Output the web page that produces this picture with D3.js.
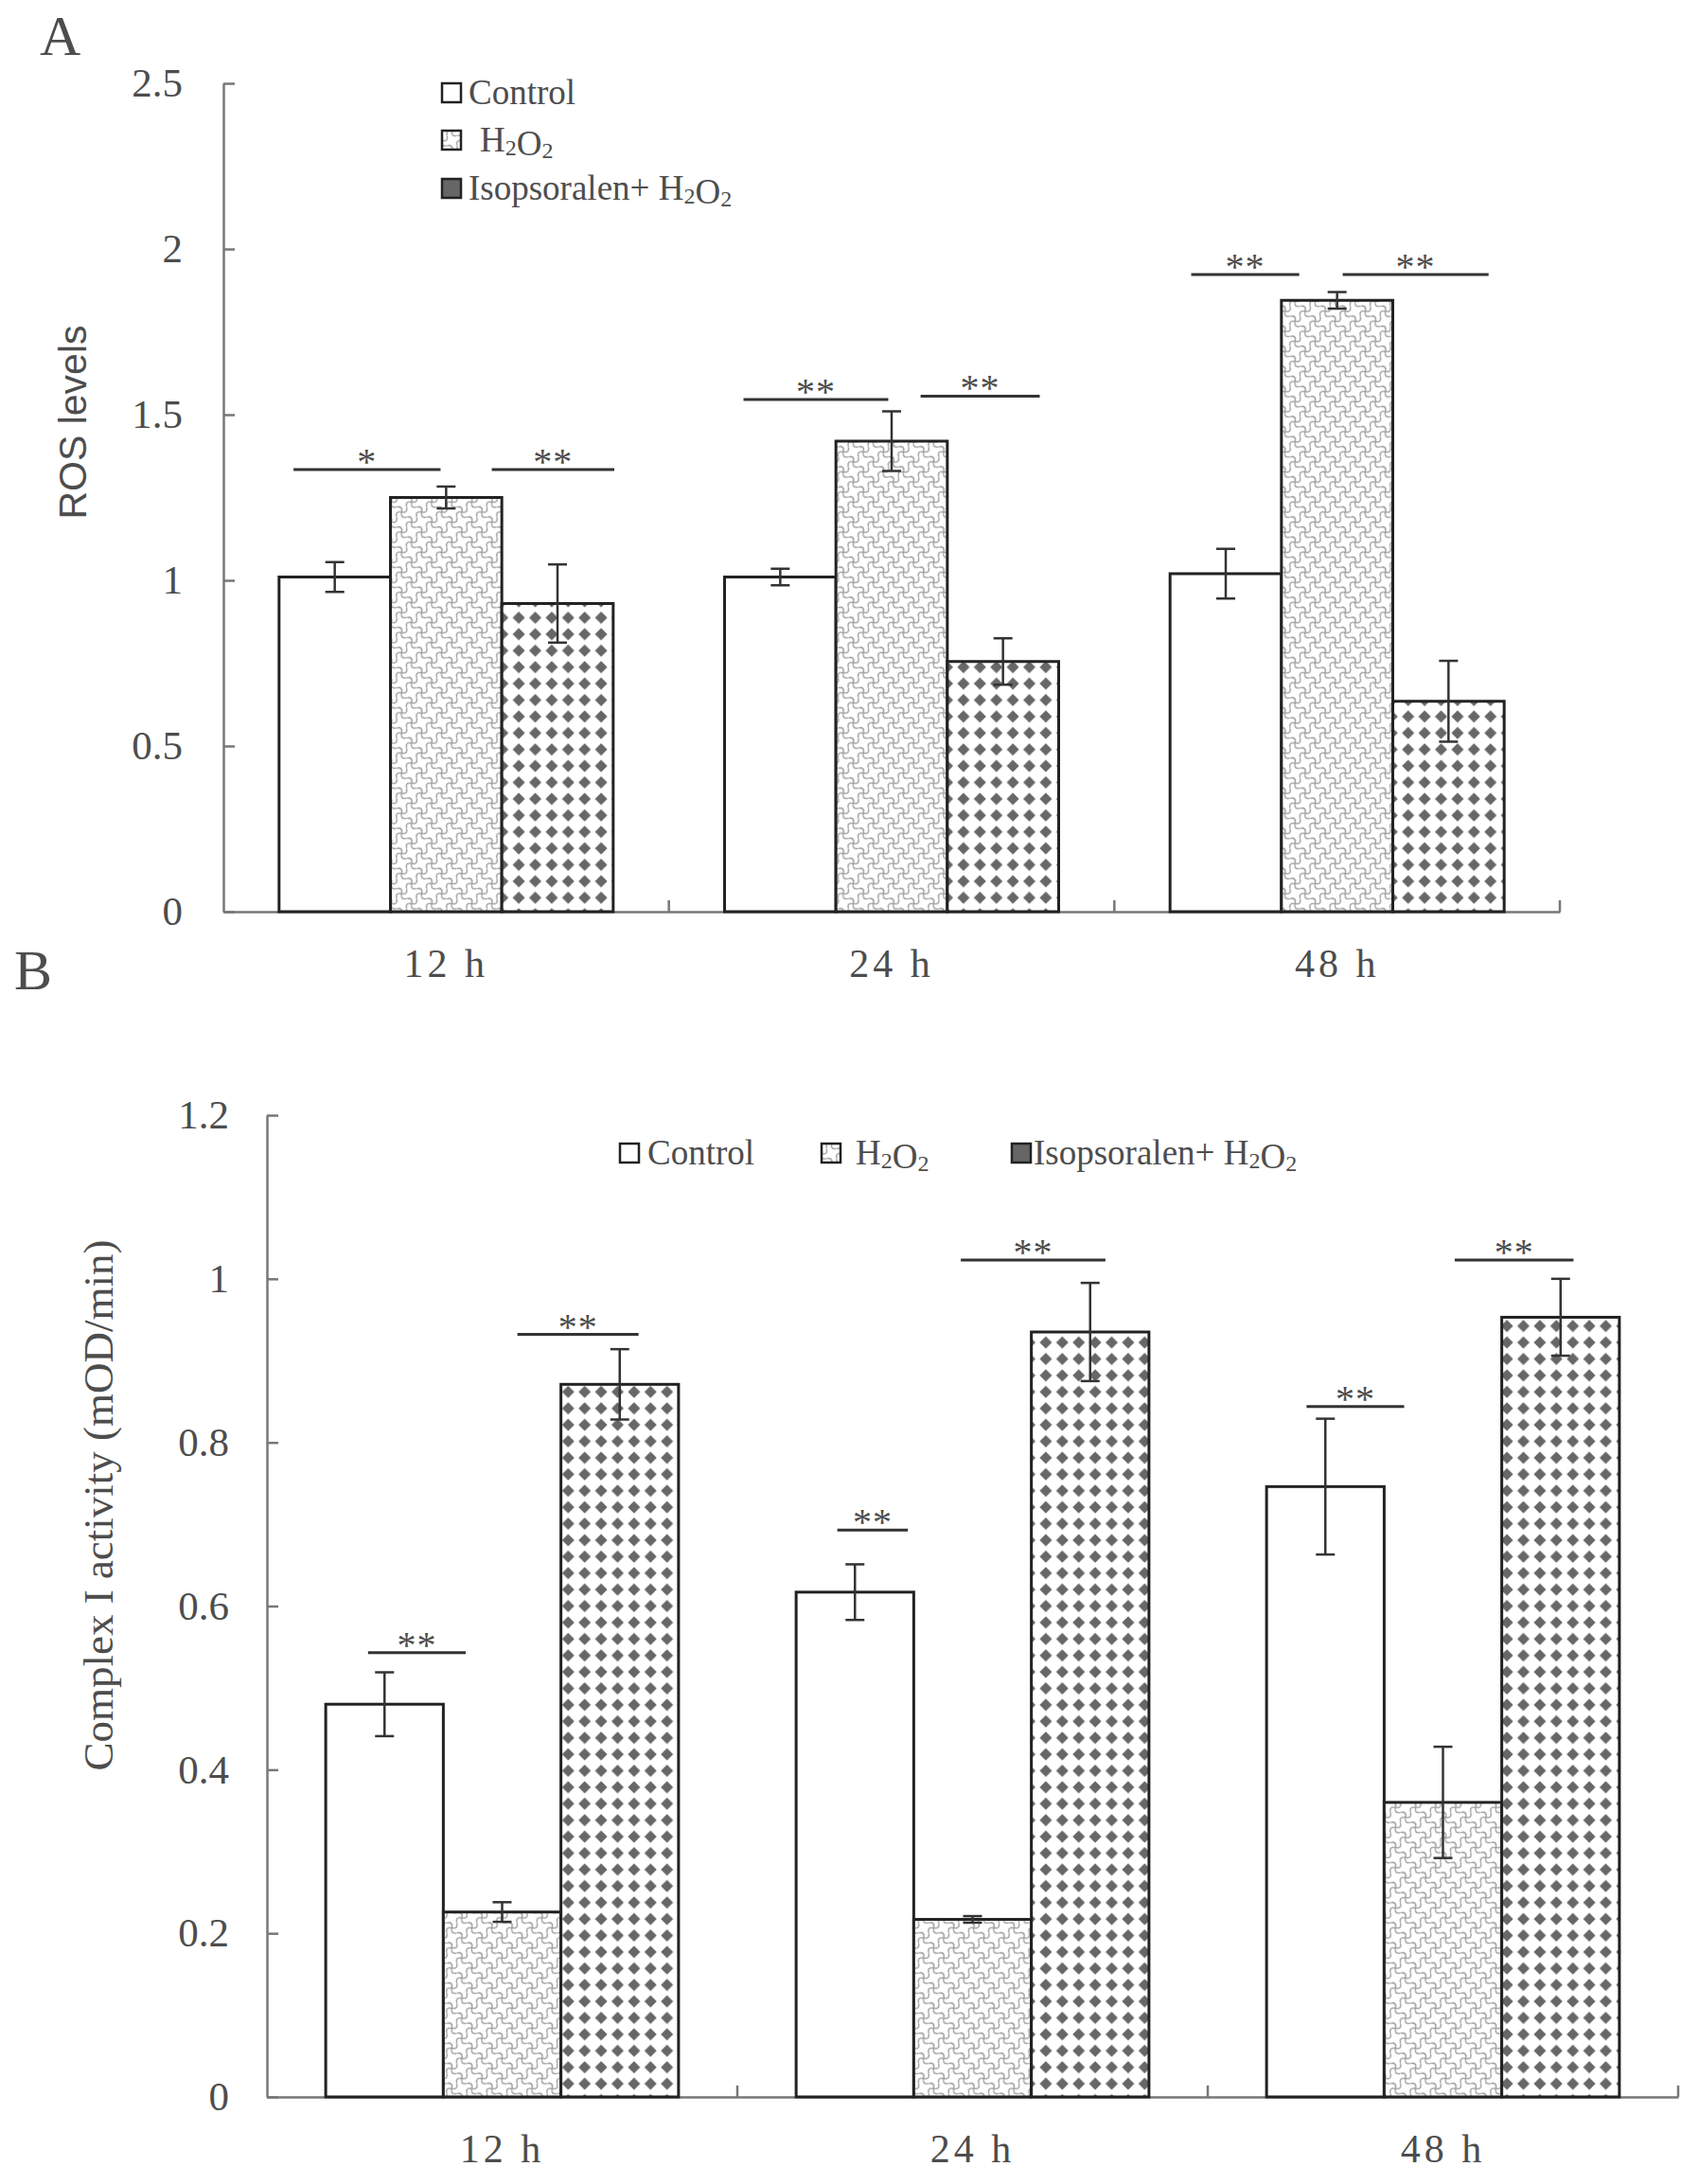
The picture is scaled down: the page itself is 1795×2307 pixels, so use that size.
<!DOCTYPE html>
<html>
<head>
<meta charset="utf-8">
<script src="https://cdn.jsdelivr.net/npm/d3@7"></script>
<style>
  body { margin: 0; background: #fff; }
  svg { display: block; }
</style>
</head>
<body>
<div id="chart"></div>
<script>
// ---- data ----
var groups = ["12 h", "24 h", "48 h"];
var series = ["Control", "H2O2", "Isopsoralen+H2O2"];

// panel A: ROS levels
var rosControl = [1.01, 1.01, 1.02];
var rosControlErr = [0.045, 0.025, 0.075];
var rosH2O2 = [1.25, 1.42, 1.845];
var rosH2O2Err = [0.033, 0.09, 0.025];
var rosIso = [0.93, 0.755, 0.635];
var rosIsoErr = [0.118, 0.07, 0.122];
var rosTicks = [0, 0.5, 1, 1.5, 2, 2.5];
// significance marks: group index, span in bar units, level, label
var rosSig = [
  { g: 0, from: 0.13, to: 1.45, level: 1.334, label: "*" },
  { g: 0, from: 1.91, to: 3.01, level: 1.334, label: "**" },
  { g: 1, from: 0.17, to: 1.47, level: 1.546, label: "**" },
  { g: 1, from: 1.76, to: 2.83, level: 1.556, label: "**" },
  { g: 2, from: 0.19, to: 1.16, level: 1.923, label: "**" },
  { g: 2, from: 1.55, to: 2.86, level: 1.923, label: "**" }
];

// panel B: complex I activity
var c1Control = [0.48, 0.617, 0.746];
var c1ControlErr = [0.039, 0.034, 0.083];
var c1H2O2 = [0.226, 0.217, 0.36];
var c1H2O2Err = [0.012, 0.004, 0.068];
var c1Iso = [0.871, 0.935, 0.953];
var c1IsoErr = [0.043, 0.06, 0.047];
var c1Ticks = [0, 0.2, 0.4, 0.6, 0.8, 1, 1.2];
var c1Sig = [
  { g: 0, from: 0.36, to: 1.19, level: 0.543, label: "**" },
  { g: 0, from: 1.63, to: 2.66, level: 0.932, label: "**" },
  { g: 1, from: 0.35, to: 0.95, level: 0.693, label: "**" },
  { g: 1, from: 1.40, to: 2.63, level: 1.023, label: "**" },
  { g: 2, from: 0.34, to: 1.17, level: 0.844, label: "**" },
  { g: 2, from: 1.60, to: 2.61, level: 1.023, label: "**" }
];

var serif = "'Liberation Serif', 'Times New Roman', serif";
var sans = "'Liberation Sans', Arial, sans-serif";
var ink = "#4d4d4d";

var svg = d3.select("#chart")
    .append("svg")
    .attr("width", 1795)
    .attr("height", 2307);

// ---- fill patterns ----
var defs = svg.append("defs");
var wave = defs.append("pattern")
    .attr("id", "wave")
    .attr("patternUnits", "userSpaceOnUse")
    .attr("width", 15)
    .attr("height", 15)
    .attr("patternTransform", "rotate(45)");
wave.append("rect").attr("width", 15).attr("height", 15).attr("fill", "#fff");
wave.append("path")
    .attr("d", "M0,7.5 Q3.75,1.5 7.5,7.5 T15,7.5 M7.5,0 Q13.5,3.75 7.5,7.5 T7.5,15")
    .attr("fill", "none")
    .attr("stroke", "#999")
    .attr("stroke-width", 1.3);

var dots = defs.append("pattern")
    .attr("id", "dots")
    .attr("patternUnits", "userSpaceOnUse")
    .attr("width", 17.4)
    .attr("height", 17.4);
dots.append("rect").attr("width", 17.4).attr("height", 17.4).attr("fill", "#fff");
dots.append("path")
    .attr("d", "M8.7,2.2 L15.2,8.7 L8.7,15.2 L2.2,8.7Z")
    .attr("fill", "#676767");

var fills = ["#fff", "url(#wave)", "url(#dots)"];

// text with chemical subscripts
function chemText(sel, str) {
    var parts = str.split(/(\d)/);
    parts.forEach(function(p) {
        if (p === "") return;
        if (/\d/.test(p)) {
            sel.append("tspan").attr("font-size", "0.65em").attr("dy", "0.15em").text(p);
            sel.append("tspan").attr("dy", "-0.15em").text("");
        } else {
            sel.append("tspan").text(p);
        }
    });
}

function panel(p) {
    var x0 = d3.scaleBand().domain(groups).range(p.xRange);
    var bw = x0.bandwidth();
    var x1 = d3.scaleBand().domain(series).range([bw * 0.125, bw * 0.875]);
    var y = d3.scaleLinear().domain(p.yDomain).range(p.yRange);
    var g = svg.append("g");

    var rows = [];
    series.forEach(function(s, i) {
        groups.forEach(function(gr, j) {
            rows.push({ group: gr, series: s, value: p.values[i][j], err: p.errors[i][j], fill: fills[i] });
        });
    });

    // x axis line + labels
    var xAxis = g.append("g")
        .attr("transform", "translate(0," + y(0) + ")")
        .call(d3.axisBottom(x0).tickSize(0).tickSizeOuter(0).tickPadding(39));
    xAxis.attr("font-family", null).attr("font-size", null);
    xAxis.select(".domain").attr("stroke", "#777").attr("stroke-width", 2.5);
    xAxis.selectAll("text")
        .attr("font-family", serif)
        .attr("font-size", 42)
        .attr("letter-spacing", 4)
        .attr("fill", ink);

    // group boundary ticks
    var edges = groups.map(function(gr) { return x0(gr); }).concat([x0.range()[1]]);
    g.selectAll("line.edge")
        .data(edges.slice(1))
        .enter()
        .append("line")
        .attr("x1", function(d) { return d; })
        .attr("x2", function(d) { return d; })
        .attr("y1", y(0))
        .attr("y2", y(0) - 12)
        .attr("stroke", "#777")
        .attr("stroke-width", 2.5);

    // y axis
    var yAxis = g.append("g")
        .attr("transform", "translate(" + p.xRange[0] + ",0)")
        .call(d3.axisLeft(y)
            .tickValues(p.yTicks)
            .tickFormat(d3.format("~g"))
            .tickSizeInner(-12)
            .tickSizeOuter(0)
            .tickPadding(p.labelGap));
    yAxis.attr("font-family", null).attr("font-size", null);
    yAxis.selectAll("path, line").attr("stroke", "#777").attr("stroke-width", 2.5);
    yAxis.selectAll("text")
        .attr("font-family", serif)
        .attr("font-size", 43)
        .attr("fill", ink);

    // bars
    g.selectAll("rect.bar")
        .data(rows)
        .enter()
        .append("rect")
        .attr("x", function(d) { return x0(d.group) + x1(d.series); })
        .attr("y", function(d) { return y(d.value); })
        .attr("width", x1.bandwidth())
        .attr("height", function(d) { return y(0) - y(d.value); })
        .attr("fill", function(d) { return d.fill; })
        .attr("stroke", "#222")
        .attr("stroke-width", 3);

    // error bars
    var cx = function(d) { return x0(d.group) + x1(d.series) + x1.bandwidth() / 2; };
    var eb = g.selectAll("g.err")
        .data(rows)
        .enter()
        .append("g")
        .attr("stroke", "#333")
        .attr("stroke-width", 2.5);
    eb.append("line")
        .attr("x1", cx).attr("x2", cx)
        .attr("y1", function(d) { return y(d.value + d.err); })
        .attr("y2", function(d) { return y(d.value - d.err); });
    eb.append("line")
        .attr("x1", function(d) { return cx(d) - 10; })
        .attr("x2", function(d) { return cx(d) + 10; })
        .attr("y1", function(d) { return y(d.value + d.err); })
        .attr("y2", function(d) { return y(d.value + d.err); });
    eb.append("line")
        .attr("x1", function(d) { return cx(d) - 10; })
        .attr("x2", function(d) { return cx(d) + 10; })
        .attr("y1", function(d) { return y(d.value - d.err); })
        .attr("y2", function(d) { return y(d.value - d.err); });

    // significance lines
    var sx = function(s, u) { return x0(groups[s.g]) + x1.range()[0] + u * x1.bandwidth(); };
    g.selectAll("line.sig")
        .data(p.sig)
        .enter()
        .append("line")
        .attr("x1", function(s) { return sx(s, s.from); })
        .attr("x2", function(s) { return sx(s, s.to); })
        .attr("y1", function(s) { return y(s.level); })
        .attr("y2", function(s) { return y(s.level); })
        .attr("stroke", "#333")
        .attr("stroke-width", 3);
    g.selectAll("text.sig")
        .data(p.sig)
        .enter()
        .append("text")
        .attr("x", function(s) { return (sx(s, s.from) + sx(s, s.to)) / 2; })
        .attr("y", function(s) { return y(s.level) + 5; })
        .attr("text-anchor", "middle")
        .attr("font-family", serif)
        .attr("font-size", 40)
        .attr("letter-spacing", 1)
        .attr("fill", ink)
        .text(function(s) { return s.label; });

    // y axis title
    svg.append("text")
        .attr("transform", "translate(" + p.titlePos[0] + "," + p.titlePos[1] + ") rotate(-90)")
        .attr("text-anchor", "middle")
        .attr("dy", "0.35em")
        .attr("font-family", p.titleFont)
        .attr("font-size", p.titleSize)
        .attr("fill", ink)
        .text(p.title);

    // legend
    var lg = svg.append("g").selectAll("g")
        .data(series)
        .enter()
        .append("g")
        .attr("transform", function(d, i) { return "translate(" + p.legend[i][0] + "," + p.legend[i][1] + ")"; });
    lg.append("rect")
        .attr("width", 20)
        .attr("height", 20)
        .attr("fill", function(d, i) { return i === 2 ? "#666" : fills[i]; })
        .attr("stroke", "#222")
        .attr("stroke-width", 2.5);
    lg.append("text")
        .attr("x", function(d, i) { return p.legendText[i]; })
        .attr("y", 22)
        .attr("font-family", serif)
        .attr("font-size", 37)
        .attr("fill", ink)
        .each(function(d) { chemText(d3.select(this), d.replace("+", "+ ")); });
}

panel({
    xRange: [236, 1648],
    yRange: [963, 88],
    yDomain: [0, 2.5],
    yTicks: rosTicks,
    labelGap: 43,
    values: [rosControl, rosH2O2, rosIso],
    errors: [rosControlErr, rosH2O2Err, rosIsoErr],
    sig: rosSig,
    title: "ROS levels",
    titleFont: sans,
    titleSize: 41,
    titlePos: [77, 446],
    legend: [[467, 88], [467, 138], [467, 189]],
    legendText: [28, 40, 28]
});

panel({
    xRange: [282, 1773],
    yRange: [2215, 1178],
    yDomain: [0, 1.2],
    yTicks: c1Ticks,
    labelGap: 40,
    values: [c1Control, c1H2O2, c1Iso],
    errors: [c1ControlErr, c1H2O2Err, c1IsoErr],
    sig: c1Sig,
    title: "Complex I activity (mOD/min)",
    titleFont: serif,
    titleSize: 45,
    titlePos: [103, 1590],
    legend: [[655, 1208], [868, 1208], [1069, 1208]],
    legendText: [29, 36, 23]
});

// panel letters
svg.append("text").attr("x", 42).attr("y", 58)
    .attr("font-family", serif).attr("font-size", 60).attr("fill", ink).text("A");
svg.append("text").attr("x", 15).attr("y", 1045)
    .attr("font-family", serif).attr("font-size", 60).attr("fill", ink).text("B");
</script>
</body>
</html>
